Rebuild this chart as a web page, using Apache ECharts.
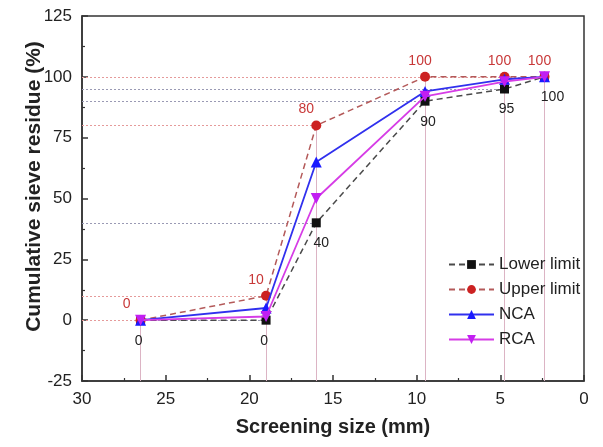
<!DOCTYPE html>
<html>
<head>
<meta charset="utf-8">
<script src="https://cdn.jsdelivr.net/npm/echarts@6/dist/echarts.min.js"></script>
<style>
  html, body { margin: 0; padding: 0; background: #fff; }
  #chart { width: 603px; height: 447px; }
</style>
</head>
<body>
<div id="chart"></div>
<script>
// Sieve sizes (mm) and cumulative residue (%) for each grading curve
const sieveSizes = [26.5, 19, 16, 9.5, 4.75, 2.36];
const lowerLimit = [0, 0, 40, 90, 95, 100];
const upperLimit = [0, 10, 80, 100, 100, 100];
const ncaValues  = [0, 5, 65, 94, 99, 100];
const rcaValues  = [0, 1.5, 50, 92, 98, 100];

const xTicks = { min: 0, max: 30, step: 5 };
const yTicks = { min: -25, max: 125, step: 25 };

// Small horizontal nudges so value labels sit clear of the curves
const upperLabelNudge = [-14, -10, -10, -5, -5, -5];
const lowerLabelNudge = [-2, -2, 5, 3, 2, 8];

const FONT = 'Liberation Sans, Arial, sans-serif';

const points = (vals, nudge, dy) => sieveSizes.map((s, i) => {
  const item = { value: [s, vals[i]] };
  if (nudge) item.label = { offset: [nudge[i], dy] };
  return item;
});

// Dotted guide from the left axis to each point
const horizontalGuides = (vals, color) => sieveSizes.map((s, i) => [
  { coord: [xTicks.max, vals[i]] },
  { coord: [s, vals[i]], lineStyle: { color: color, type: [2, 2], width: 1 } }
]);
// Thin drop line from each point down to the bottom axis
const verticalGuides = (vals, color) => sieveSizes.map((s, i) => [
  { coord: [s, vals[i]] },
  { coord: [s, yTicks.min], lineStyle: { color: color, type: 'solid', width: 1 } }
]);

const chart = echarts.init(document.getElementById('chart'), null, { renderer: 'canvas' });

chart.setOption({
  animation: false,
  backgroundColor: '#fff',
  textStyle: { fontFamily: FONT },
  grid: { left: 82, right: 19, top: 16, bottom: 66, show: true, borderColor: '#333', borderWidth: 1.5 },
  legend: {
    orient: 'vertical',
    left: 443,
    top: 251,
    itemWidth: 45,
    itemHeight: 11,
    itemGap: 8,
    textStyle: { fontSize: 17, color: '#222', fontFamily: FONT },
    data: ['Lower limit', 'Upper limit', 'NCA', 'RCA']
  },
  xAxis: {
    type: 'value',
    inverse: true,
    min: xTicks.min,
    max: xTicks.max,
    interval: xTicks.step,
    name: 'Screening size (mm)',
    nameLocation: 'middle',
    nameGap: 36,
    nameMoveOverlap: false,
    nameTextStyle: { fontSize: 20, fontWeight: 'bold', color: '#222', fontFamily: FONT },
    axisLine: { show: true, onZero: false, lineStyle: { color: '#333', width: 1.5 } },
    axisTick: { show: true, inside: true, length: 6, lineStyle: { color: '#333', width: 1.5 } },
    minorTick: { show: true, splitNumber: 2, length: 3, lineStyle: { color: '#333', width: 1.2 } },
    axisLabel: { fontSize: 17, color: '#222', margin: 10, fontFamily: FONT },
    splitLine: { show: false }
  },
  yAxis: {
    type: 'value',
    min: yTicks.min,
    max: yTicks.max,
    interval: yTicks.step,
    name: 'Cumulative sieve residue (%)',
    nameLocation: 'middle',
    nameGap: 37,
    nameMoveOverlap: false,
    nameTextStyle: {
      fontSize: 21, fontWeight: 'bold', color: '#222', fontFamily: FONT,
      padding: [0, 0, 0, 24]
    },
    axisLine: { show: true, onZero: false, lineStyle: { color: '#333', width: 1.5 } },
    axisTick: { show: true, inside: true, length: 6, lineStyle: { color: '#333', width: 1.5 } },
    minorTick: { show: true, splitNumber: 2, length: 3, lineStyle: { color: '#333', width: 1.2 } },
    axisLabel: { fontSize: 17, color: '#222', margin: 10, fontFamily: FONT },
    splitLine: { show: false }
  },
  series: [
    {
      name: 'Lower limit',
      type: 'line',
      data: points(lowerLimit, lowerLabelNudge, 0),
      symbol: 'rect',
      symbolSize: 9,
      z: 3,
      lineStyle: { color: '#4a4a4a', width: 1.5, type: [6, 4] },
      itemStyle: { color: '#111' },
      label: {
        show: true, position: 'bottom', distance: 9,
        formatter: p => p.value[1],
        fontSize: 14, color: '#222', fontFamily: FONT
      },
      markLine: {
        silent: true, symbol: 'none', label: { show: false }, z: 1,
        data: horizontalGuides(lowerLimit, '#9a9ab4')
      }
    },
    {
      name: 'Upper limit',
      type: 'line',
      data: points(upperLimit, upperLabelNudge, 0),
      symbol: 'circle',
      symbolSize: 10,
      z: 4,
      lineStyle: { color: '#b45a5a', width: 1.5, type: [6, 4] },
      itemStyle: { color: '#cc2222' },
      label: {
        show: true, position: 'top', distance: 4,
        formatter: p => p.value[1],
        fontSize: 14, color: '#c83838', fontFamily: FONT
      },
      markLine: {
        silent: true, symbol: 'none', label: { show: false }, z: 2,
        data: horizontalGuides(upperLimit, '#e59a9a').concat(verticalGuides(upperLimit, '#dcb4c4'))
      }
    },
    {
      name: 'NCA',
      type: 'line',
      data: points(ncaValues),
      symbol: 'triangle',
      symbolSize: 11,
      z: 5,
      lineStyle: { color: '#3030ee', width: 1.8 },
      itemStyle: { color: '#1a1aff' }
    },
    {
      name: 'RCA',
      type: 'line',
      data: points(rcaValues),
      symbol: 'triangle',
      symbolRotate: 180,
      symbolSize: 11,
      z: 6,
      lineStyle: { color: '#d63ce6', width: 1.8 },
      itemStyle: { color: '#c21ef2' }
    }
  ]
});
</script>
</body>
</html>
